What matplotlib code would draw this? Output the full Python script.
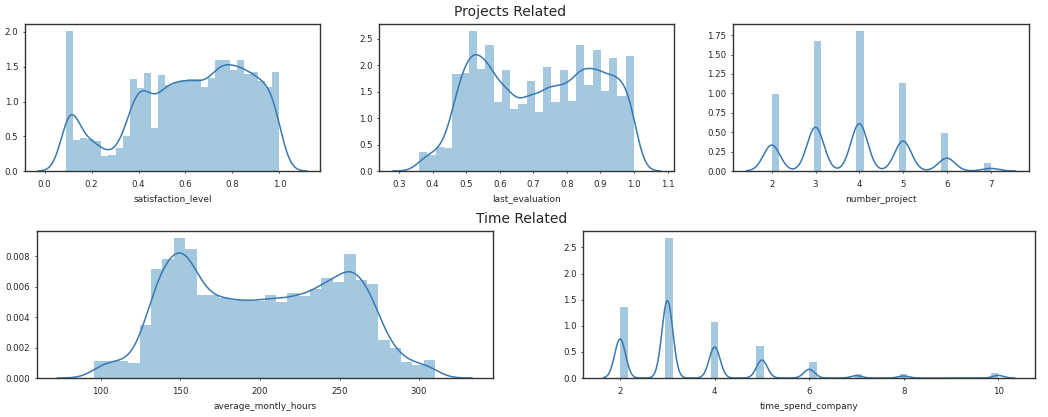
import numpy as np
import matplotlib
matplotlib.use('Agg')
import matplotlib.pyplot as plt
from matplotlib.ticker import MultipleLocator

# rows in the dataset (used for the kde bandwidth)
n_obs = 14999

# satisfaction_level: 30 bins between 0.09 and 1.0, density per bin
sat_range = (0.09, 1.0)
sat_density = [2.01, 0.45, 0.47, 0.46, 0.43, 0.22, 0.23, 0.33, 0.50, 1.33,
               1.19, 1.41, 0.62, 1.38, 1.24, 1.28, 1.31, 1.32, 1.33, 1.21,
               1.34, 1.60, 1.60, 1.46, 1.59, 1.40, 1.42, 1.30, 1.21, 1.42]

# last_evaluation: 26 bins between 0.36 and 1.0
eval_range = (0.36, 1.0)
eval_density = [0.35, 0.30, 0.46, 0.44, 1.83, 1.86, 2.64, 1.93, 2.38, 1.31,
                1.91, 1.18, 1.27, 1.70, 1.12, 1.96, 1.31, 1.91, 1.33, 2.38,
                1.62, 2.28, 1.51, 2.14, 1.42, 2.17]

# number_project: 31 bins between 2 and 7
proj_range = (2, 7)
proj_bins = 31
proj_values = [2, 3, 4, 5, 6, 7]
proj_density = [0.99, 1.67, 1.80, 1.14, 0.49, 0.10]

# average_montly_hours: 30 bins between 96 and 310
hours_range = (96, 310)
hours_density = [0.00112, 0.00112, 0.00115, 0.00097, 0.00352, 0.00720, 0.00786,
                 0.00921, 0.00852, 0.00544, 0.00544, 0.00526, 0.00515, 0.00509,
                 0.00504, 0.00548, 0.00500, 0.00560, 0.00537, 0.00588, 0.00659,
                 0.00632, 0.00817, 0.00648, 0.00619, 0.00247, 0.00196, 0.00104,
                 0.00088, 0.00119]

# time_spend_company: 50 bins between 2 and 10
time_range = (2, 10)
time_bins = 50
time_values = [2, 3, 4, 5, 6, 7, 8, 10]
time_density = [1.35, 2.68, 1.07, 0.62, 0.30, 0.08, 0.07, 0.09]

BLUE = '#1f77b4'
LINE = '#3a78b0'
TEXT = '#262626'


def scott_bw(x, w):
    # statsmodels style scott rule on weighted points
    x = np.asarray(x, float)
    w = np.asarray(w, float) / np.sum(w)
    mean = np.sum(w * x)
    std = np.sqrt(np.sum(w * (x - mean) ** 2))
    cdf = np.cumsum(w)
    iqr = x[np.searchsorted(cdf, 0.75)] - x[np.searchsorted(cdf, 0.25)]
    a = min(std, iqr / 1.349) if iqr > 0 else std
    return 1.059 * a * n_obs ** (-0.2)


def dist(ax, x, w, edges, lo, hi):
    # histogram bars
    ax.hist(x, bins=edges, weights=w, color=BLUE, alpha=0.4)
    # gaussian kde, cut at 3 bandwidths like seaborn
    x = np.asarray(x, float)
    w = np.asarray(w, float) / np.sum(w)
    bw = scott_bw(x, w)
    grid = np.linspace(lo - 3 * bw, hi + 3 * bw, 300)
    z = (grid[:, None] - x[None, :]) / bw
    dens = (w[None, :] * np.exp(-0.5 * z ** 2)).sum(axis=1) / (bw * np.sqrt(2 * np.pi))
    ax.plot(grid, dens, color=LINE, lw=1.1)


def continuous(ax, rng, density):
    edges = np.linspace(rng[0], rng[1], len(density) + 1)
    centers = (edges[:-1] + edges[1:]) / 2
    dist(ax, centers, density, edges, rng[0], rng[1])


def discrete(ax, rng, nbins, values, density):
    edges = np.linspace(rng[0], rng[1], nbins + 1)
    dist(ax, values, density, edges, min(values), max(values))


def style(ax, label, xstep, ystep):
    ax.xaxis.set_major_locator(MultipleLocator(xstep))
    ax.yaxis.set_major_locator(MultipleLocator(ystep))
    ax.tick_params(axis='both', length=1.5, width=0.7, color='#444444',
                   labelsize=6.2, labelcolor=TEXT)
    ax.tick_params(axis='x', pad=5)
    ax.tick_params(axis='y', pad=3.3)
    ax.set_xlabel(label, fontsize=6.5, color=TEXT, labelpad=4)
    for s in ax.spines.values():
        s.set_color('#333333')
        s.set_linewidth(1.0)


fig = plt.figure(figsize=(10.48, 4.17), dpi=100)

ax1 = fig.add_axes([0.0239, 0.5899, 0.2815, 0.3518])
ax2 = fig.add_axes([0.3619, 0.5899, 0.2812, 0.3518])
ax3 = fig.add_axes([0.6997, 0.5899, 0.2822, 0.3518])
ax4 = fig.add_axes([0.0350, 0.0935, 0.4351, 0.3525])
ax5 = fig.add_axes([0.5566, 0.0935, 0.4310, 0.3525])

continuous(ax1, sat_range, sat_density)
style(ax1, 'satisfaction_level', 0.2, 0.5)

continuous(ax2, eval_range, eval_density)
style(ax2, 'last_evaluation', 0.1, 0.5)

discrete(ax3, proj_range, proj_bins, proj_values, proj_density)
style(ax3, 'number_project', 1, 0.25)

continuous(ax4, hours_range, hours_density)
style(ax4, 'average_montly_hours', 50, 0.002)

discrete(ax5, time_range, time_bins, time_values, time_density)
style(ax5, 'time_spend_company', 2, 0.5)

fig.text(0.487, 0.9616, 'Projects Related', ha='center', va='baseline',
         fontsize=10, color=TEXT)
fig.text(0.4976, 0.4645, 'Time Related', ha='center', va='baseline',
         fontsize=10, color=TEXT)

fig.savefig('out.png', dpi=100)
